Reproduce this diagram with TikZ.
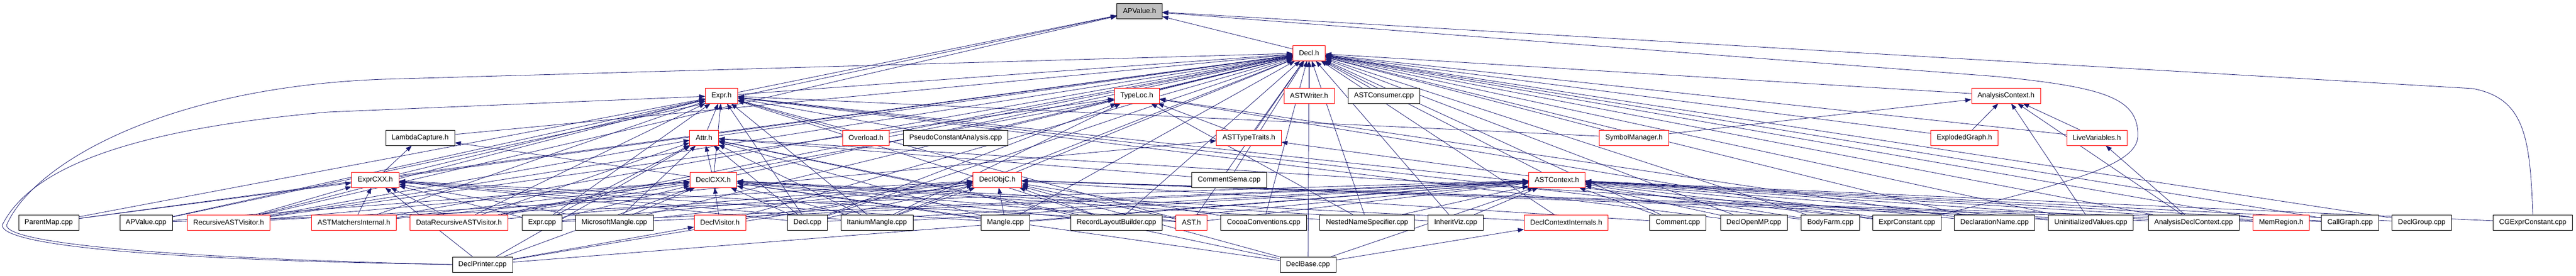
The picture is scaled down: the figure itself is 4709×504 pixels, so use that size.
\documentclass[tikz,border=0pt]{standalone}
\usepackage{fontspec}
\setmainfont{Liberation Sans}
\usepackage{xcolor}
\usepackage{tikz}
\usetikzlibrary{arrows.meta}
\usetikzlibrary{backgrounds}
\definecolor{edgeblue}{HTML}{191970}
\tikzset{
  file/.style={draw=black,fill=white,line width=0.8pt,minimum height=28pt,inner xsep=11pt,inner ysep=0pt,font=\fontsize{13}{15}\selectfont},
  hfile/.style={file,draw=red},
  curfile/.style={file,fill=black!25},
  inc/.style={draw=edgeblue,line width=0.8pt,-{Stealth[length=11pt,width=8pt,inset=0pt]}}
}

\begin{document}
\begin{tikzpicture}[x=1pt,y=-1pt]
        \useasboundingbox (0,0) rectangle (4709,504);
        % top rows
        \node[curfile] (apvalueh) at (2083,20) {APValue.h};
        \node[hfile] (declh) at (2393,97) {Decl.h};
        \node[hfile] (exprh) at (1319,175) {Expr.h};
        \node[hfile] (typeloch) at (2078,175) {TypeLoc.h};
        \node[hfile] (astwriterh) at (2393,175) {ASTWriter.h};
        \node[file] (astconsumercpp) at (2530,175) {ASTConsumer.cpp};
        \node[hfile] (analysisctxh) at (3667,175) {AnalysisContext.h};
        \node[file] (lambdacaptureh) at (768,252) {LambdaCapture.h};
        \node[hfile] (attrh) at (1287,252) {Attr.h};
        \node[hfile] (overloadh) at (1583,252) {Overload.h};
        \node[file] (pseudoconstcpp) at (1747,252) {PseudoConstantAnalysis.cpp};
        \node[hfile] (asttypetraitsh) at (2283,252) {ASTTypeTraits.h};
        \node[hfile] (symbolmgrh) at (2987,252) {SymbolManager.h};
        \node[hfile] (explodedgraphh) at (3591,252) {ExplodedGraph.h};
        \node[hfile] (livevarsh) at (3833,252) {LiveVariables.h};
        \node[hfile] (exprcxxh) at (686,329) {ExprCXX.h};
        \node[hfile] (declcxxh) at (1304,329) {DeclCXX.h};
        \node[hfile] (declobjch) at (1823,329) {DeclObjC.h};
        \node[file] (commentsemacpp) at (2247,329) {CommentSema.cpp};
        \node[hfile] (astcontexth) at (2846,329) {ASTContext.h};
        % bottom rows
        \node[file] (parentmapcpp) at (89,407) {ParentMap.cpp};
        \node[file] (apvaluecpp) at (267,407) {APValue.cpp};
        \node[hfile] (recursiveh) at (418,407) {RecursiveASTVisitor.h};
        \node[hfile] (matchersh) at (647,407) {ASTMatchersInternal.h};
        \node[hfile] (datarecursiveh) at (839,407) {DataRecursiveASTVisitor.h};
        \node[file] (exprcpp) at (991,407) {Expr.cpp};
        \node[file] (microsoftcpp) at (1123,407) {MicrosoftMangle.cpp};
        \node[hfile] (declvisitorh) at (1316,407) {DeclVisitor.h};
        \node[file] (declcpp) at (1476,407) {Decl.cpp};
        \node[file] (itaniumcpp) at (1603,407) {ItaniumMangle.cpp};
        \node[file] (manglecpp) at (1838,407) {Mangle.cpp};
        \node[file] (recordlayoutcpp) at (2041,407) {RecordLayoutBuilder.cpp};
        \node[hfile] (asth) at (2178,407) {AST.h};
        \node[file] (cocoacpp) at (2310,407) {CocoaConventions.cpp};
        \node[file] (nestedcpp) at (2499,407) {NestedNameSpecifier.cpp};
        \node[file] (inheritvizcpp) at (2661,407) {InheritViz.cpp};
        \node[hfile] (declctxinth) at (2863,407) {DeclContextInternals.h};
        \node[file] (commentcpp) at (3067,407) {Comment.cpp};
        \node[file] (declopenmpcpp) at (3206,407) {DeclOpenMP.cpp};
        \node[file] (bodyfarmcpp) at (3346,407) {BodyFarm.cpp};
        \node[file] (exprconstantcpp) at (3486,407) {ExprConstant.cpp};
        \node[file] (declnamecpp) at (3646,407) {DeclarationName.cpp};
        \node[file] (uninitcpp) at (3822,407) {UninitializedValues.cpp};
        \node[file] (analysisdeclcpp) at (4010,407) {AnalysisDeclContext.cpp};
        \node[hfile] (memregionh) at (4170,407) {MemRegion.h};
        \node[file] (callgraphcpp) at (4296,407) {CallGraph.cpp};
        \node[file] (declgroupcpp) at (4427,407) {DeclGroup.cpp};
        \node[file] (cgexprconstcpp) at (4630,407) {CGExprConstant.cpp};
        \node[file] (declprintercpp) at (882,484) {DeclPrinter.cpp};
        \node[file] (declbasecpp) at (2391,484) {DeclBase.cpp};

        \begin{scope}[on background layer]
        \foreach \s in {declh,exprh,apvaluecpp,recursiveh}
            \draw[inc] (\s) -- (apvalueh);
        % the two long ones on the right
        \draw[inc] (cgexprconstcpp.north) .. controls (4625,250) and (4615,180) .. (4520,162) -- (apvalueh);
        \draw[inc] (exprconstantcpp.north east) .. controls (3800,330) and (3905,300) .. (3908,250) .. controls (3910,180) and (3850,160) .. (3650,140) -- (apvalueh);
        \foreach \s in {exprh,typeloch,astwriterh,astconsumercpp,analysisctxh,lambdacaptureh,attrh,overloadh,pseudoconstcpp,asttypetraitsh,symbolmgrh,explodedgraphh,livevarsh,exprcxxh,declcxxh,declobjch,commentsemacpp,astcontexth,parentmapcpp,recursiveh,matchersh,datarecursiveh,declvisitorh,declcpp,itaniumcpp,manglecpp,microsoftcpp,recordlayoutcpp,asth,cocoacpp,nestedcpp,inheritvizcpp,declctxinth,commentcpp,declopenmpcpp,bodyfarmcpp,declnamecpp,uninitcpp,analysisdeclcpp,memregionh,callgraphcpp,declgroupcpp,declbasecpp}
            \draw[inc] (\s) -- (declh);
        % DeclPrinter.cpp goes round the left side
        \draw[inc] (declprintercpp.west) .. controls (300,472) and (12,445) .. (12,412) .. controls (60,300) and (300,160) .. (700,145) -- (declh);
        \draw[inc] (declprintercpp.west) .. controls (300,476) and (4,450) .. (4,412) .. controls (50,320) and (200,240) .. (600,205) -- (exprh);
        \foreach \s in {attrh,overloadh,pseudoconstcpp,symbolmgrh,exprcxxh,declcxxh,parentmapcpp,apvaluecpp,recursiveh,datarecursiveh,matchersh,exprcpp,declcpp,itaniumcpp,recordlayoutcpp,asth,declopenmpcpp,bodyfarmcpp,exprconstantcpp}
            \draw[inc] (\s) -- (exprh);
        \foreach \s in {asttypetraitsh,recursiveh,datarecursiveh,declcpp,itaniumcpp,nestedcpp,exprconstantcpp,declnamecpp}
            \draw[inc] (\s) -- (typeloch);
        \foreach \s in {symbolmgrh,explodedgraphh,livevarsh,uninitcpp,analysisdeclcpp}
            \draw[inc] (\s) -- (analysisctxh);
        \foreach \s in {exprcxxh,declcxxh}
            \draw[inc] (\s) -- (lambdacaptureh);
        \foreach \s in {declcxxh,commentsemacpp,recursiveh,datarecursiveh,exprcpp,microsoftcpp,declcpp,itaniumcpp,manglecpp,recordlayoutcpp,uninitcpp,declprintercpp,declbasecpp}
            \draw[inc] (\s) -- (attrh);
        \foreach \s in {astcontexth,matchersh}
            \draw[inc] (\s) -- (asttypetraitsh);
        \draw[inc] (analysisdeclcpp) -- (livevarsh);
        \foreach \s in {parentmapcpp,recursiveh,matchersh,datarecursiveh,exprcpp,microsoftcpp,declcpp,itaniumcpp,manglecpp,asth,declprintercpp}
            \draw[inc] (\s) -- (exprcxxh);
        \foreach \s in {apvaluecpp,recursiveh,matchersh,datarecursiveh,exprcpp,microsoftcpp,declvisitorh,declcpp,itaniumcpp,manglecpp,recordlayoutcpp,asth,nestedcpp,inheritvizcpp,declctxinth,declprintercpp,declbasecpp}
            \draw[inc] (\s) -- (declcxxh);
        \foreach \s in {recursiveh,datarecursiveh,exprcpp,microsoftcpp,declvisitorh,declcpp,itaniumcpp,manglecpp,recordlayoutcpp,asth,cocoacpp,commentcpp,analysisdeclcpp,memregionh,declprintercpp,declbasecpp,callgraphcpp}
            \draw[inc] (\s) -- (declobjch);
        \foreach \s in {apvaluecpp,exprcpp,microsoftcpp,declcpp,itaniumcpp,manglecpp,recordlayoutcpp,asth,nestedcpp,inheritvizcpp,commentcpp,declopenmpcpp,bodyfarmcpp,exprconstantcpp,declnamecpp,uninitcpp,analysisdeclcpp,memregionh,callgraphcpp,declgroupcpp,cgexprconstcpp,declprintercpp,declbasecpp}
            \draw[inc] (\s) -- (astcontexth);
        \draw[inc] (declprintercpp) -- (declvisitorh);
        \draw[inc] (declbasecpp) -- (declctxinth);
        \end{scope}
\end{tikzpicture}
\end{document}
